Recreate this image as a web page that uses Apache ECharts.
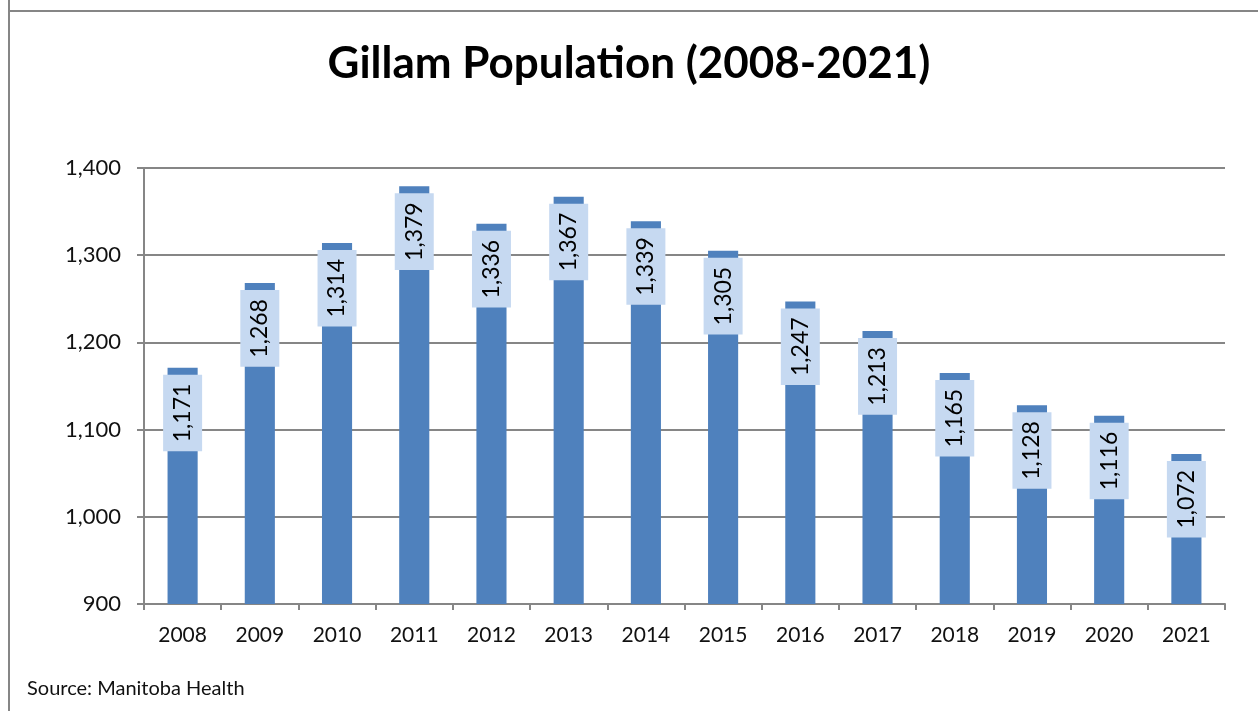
<!DOCTYPE html>
<html>
<head>
<meta charset="utf-8">
<script src="https://cdn.jsdelivr.net/npm/echarts@6/dist/echarts.min.js"></script>
<style>
html,body{margin:0;padding:0;background:#fff;}
#chart{width:1258px;height:711px;}
</style>
</head>
<body>
<div id="chart"></div>
<script>
const titleText = 'Gillam Population (2008-2021)';
const sourceText = 'Source: Manitoba Health';
const years = ['2008','2009','2010','2011','2012','2013','2014','2015','2016','2017','2018','2019','2020','2021'];
const population = [1171,1268,1314,1379,1336,1367,1339,1305,1247,1213,1165,1128,1116,1072];
const yMin = 900, yMax = 1400, yStep = 100;

const fmt = v => Number(v).toLocaleString('en-US');
const FONT = 'Lato';

const chart = echarts.init(document.getElementById('chart'), null, {renderer:'canvas'});
chart.setOption({
  animation: false,
  backgroundColor: '#fff',
  title: {
    text: titleText,
    left: 'center',
    top: 37,
    textStyle: {fontFamily: FONT, fontWeight: 'bold', fontSize: 44, color: '#000'}
  },
  graphic: [
    {type:'line', shape:{x1:9, y1:0, x2:9, y2:711}, style:{stroke:'#868686', lineWidth:2}},
    {type:'line', shape:{x1:8, y1:11, x2:1258, y2:11}, style:{stroke:'#868686', lineWidth:2}},
    {type:'text', left: 27, top: 679, style:{text: sourceText, fontFamily: FONT, fontSize: 20, fill:'#111'}}
  ],
  grid: {left:144, right:33, top:168, bottom:107, containLabel:false},
  xAxis: {
    type:'category',
    data: years,
    axisLine:{lineStyle:{color:'#868686', width:2}},
    axisTick:{show:true, length:6, alignWithLabel:false, lineStyle:{color:'#868686', width:2}},
    axisLabel:{fontFamily:FONT, fontSize:21, color:'#111', margin:21},
    splitLine:{show:false}
  },
  yAxis: {
    type:'value',
    min:yMin, max:yMax, interval:yStep,
    axisLine:{show:true, lineStyle:{color:'#868686', width:2}},
    axisTick:{show:true, length:7, lineStyle:{color:'#868686', width:2}},
    axisLabel:{fontFamily:FONT, fontSize:22, color:'#111', margin:23, formatter: v => fmt(v)},
    splitLine:{show:true, lineStyle:{color:'#868686', width:2}}
  },
  series: [{
    type:'bar',
    data: population,
    barWidth: '39%',
    itemStyle:{color:'#4f81bd'},
    label:{
      show:true,
      position:'insideTop',
      distance:7,
      rotate:90,
      align:'right',
      verticalAlign:'middle',
      formatter: p => fmt(p.value),
      fontFamily:FONT,
      fontSize:23,
      color:'#000',
      backgroundColor:'#c6d9f1',
      padding:[8,9]
    }
  }]
});
</script>
</body>
</html>
